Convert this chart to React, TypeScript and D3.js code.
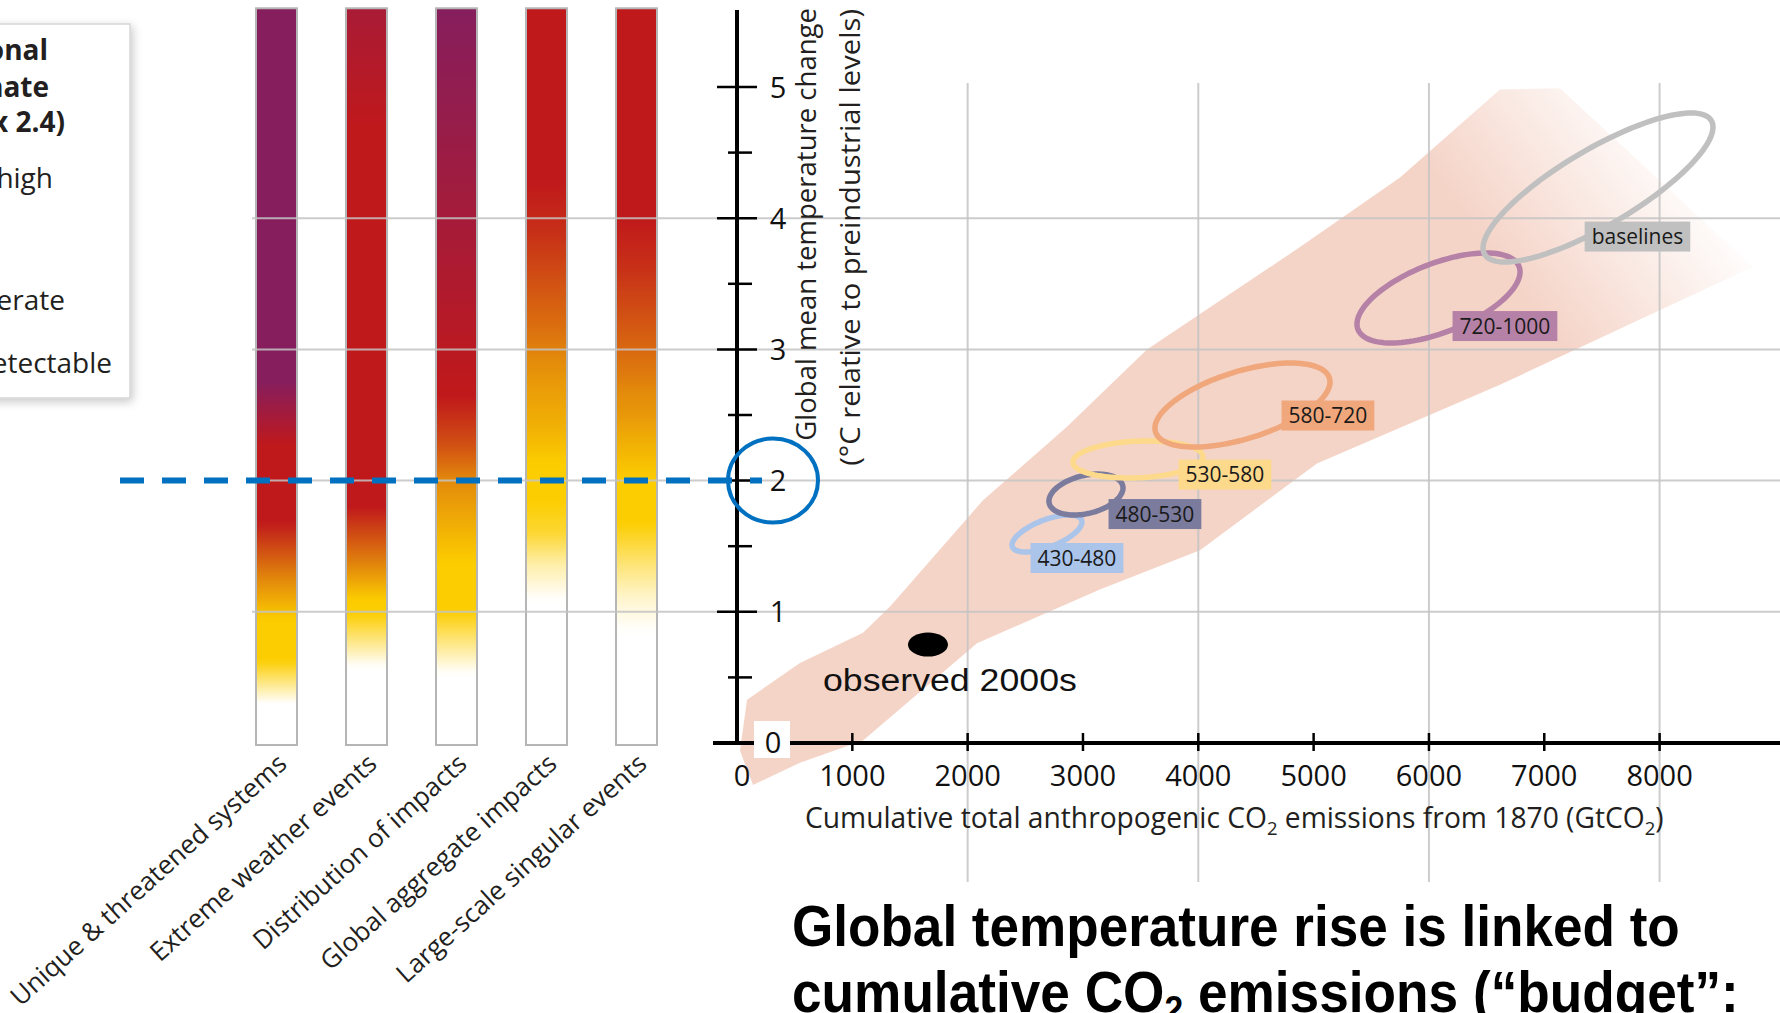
import React, { useLayoutEffect, useRef, useState } from 'react';
import * as d3 from 'd3';

const W = 1780;
const H = 1013;

// ---- Reasons for concern (left panel) ----
const categories = [
  'Unique & threatened systems',
  'Extreme weather events',
  'Distribution of impacts',
  'Global aggregate impacts',
  'Large-scale singular events',
];

// Risk level by warming: [°C, level]; 0 undetectable, 1 moderate, 2 high, 3 very high
const riskUnique = [[0.3, 0], [0.63, 1], [0.94, 1], [1.24, 1.5], [1.68, 2], [2.26, 2], [2.75, 3], [5.6, 3]];
const riskExtreme = [[0.58, 0], [0.99, 1], [1.09, 1], [1.34, 1.5], [1.8, 2], [4.65, 2], [5.6, 2.4]];
const riskDistribution = [[0.53, 0], [1.01, 1], [1.37, 1], [1.75, 1.3], [2.0, 1.5], [2.26, 1.75], [2.64, 2], [3.12, 2.15], [4.09, 2.5], [5.6, 3]];
const riskAggregate = [[1.09, 0], [1.37, 0.35], [1.6, 0.8], [1.85, 1], [2.13, 1], [2.39, 1.2], [2.77, 1.4], [2.92, 1.5], [3.12, 1.6], [3.38, 1.7], [3.89, 1.9], [4.27, 2], [5.6, 2]];
const riskSingular = [[0.84, 0], [1.11, 0.2], [1.37, 0.55], [1.68, 1], [2.0, 1], [2.26, 1.2], [2.51, 1.4], [2.77, 1.55], [3.12, 1.7], [3.63, 1.9], [4.0, 2], [5.6, 2]];
const riskStops = [riskUnique, riskExtreme, riskDistribution, riskAggregate, riskSingular];

const riskLevels = [0, 1, 1.5, 2, 3];
const riskColors = ['#ffffff', '#fccd00', '#e38a0b', '#c0191b', '#861e5d'];

const legendTitle = ['Level of additional', 'risk due to climate', 'change (see Box 2.4)'];
const legendItems = ['Very high', 'High', 'Moderate', 'Undetectable'];

// ---- Axes ----
const yTicks = [1, 2, 3, 4, 5];
const yMinorTicks = [0.5, 1.5, 2.5, 3.5, 4.5];
const xTicks = [0, 1000, 2000, 3000, 4000, 5000, 6000, 7000, 8000];
const xGrid = [2000, 4000, 6000, 8000];
const yGrid = [1, 2, 3, 4];
const tempTop = 5.6;
const threshold = 2;

// ---- Model plume (GtCO2, °C) ----
const plumeUpper = [
  [87, 0.33], [546, 0.61], [1093, 0.84], [1327, 1.04], [2133, 1.85], [2861, 2.41],
  [3555, 3.0], [4882, 3.78], [5749, 4.31], [6616, 4.98], [7136, 4.99],
];
const plumeLower = [
  [8810, 3.63], [6616, 2.73], [5029, 2.13], [4015, 1.47], [3147, 1.17],
  [2081, 0.76], [1093, 0.02], [546, -0.15], [139, -0.32], [26, -0.06],
];

// ---- Scenario categories (ppm CO2-eq in 2100) ----
const scenarioNames = ['430-480', '480-530', '530-580', '580-720', '720-1000', 'baselines'];
const scenarioCO2 = [2688, 3026, 3477, 4383, 6083, 7466];
const scenarioTemp = [1.597, 1.894, 2.161, 2.576, 3.392, 4.234];
const scenarioCO2Half = [303, 321, 564, 759, 707, 997];
const scenarioTempHalf = [0.141, 0.156, 0.141, 0.32, 0.343, 0.568];
const scenarioCorr = [0.62, 0.32, 0.14, 0.55, 0.58, 0.81];
const scenarioLabelCO2 = [2948, 3624, 4231, 5124, 6659, 7808];
const scenarioLabelTemp = [1.41, 1.745, 2.046, 2.496, 3.178, 3.86];
const scenarioColors = ['#aac4ea', '#7b7b9d', '#fdd98b', '#efa77b', '#b681a6', '#c0c0c0'];

const observedCO2 = 1656;
const observedTemp = 0.75;

const SANS = '"Open Sans", "Noto Sans", sans-serif';
const ARIAL = '"Liberation Sans", Arial, sans-serif';

// Text stretched/compressed horizontally to a given width
function FitText({ x, y, width, rotate = 0, anchor = 'start', style, children }: any) {
  const ref = useRef<SVGTextElement>(null);
  const [k, setK] = useState(1);
  useLayoutEffect(() => {
    if (ref.current) {
      const w = ref.current.getComputedTextLength();
      if (w > 0) setK(width / w);
    }
  }, [width]);
  return (
    <g transform={`translate(${x},${y}) rotate(${rotate}) scale(${k},1)`}>
      <text ref={ref} textAnchor={anchor} style={style}>{children}</text>
    </g>
  );
}

function BoxLabel({ cx, cy, text, fill }: any) {
  const ref = useRef<SVGTextElement>(null);
  const [w, setW] = useState(80);
  useLayoutEffect(() => {
    if (ref.current) setW(ref.current.getComputedTextLength());
  }, [text]);
  return (
    <g>
      <rect x={cx - w / 2 - 7} y={cy - 15} width={w + 14} height={30} fill={fill} />
      <text ref={ref} x={cx} y={cy + 7.5} textAnchor="middle"
        style={{ fontFamily: SANS, fontSize: 21, fill: '#1a1a1a' }}>{text}</text>
    </g>
  );
}

export default function App() {
  const x = d3.scaleLinear().domain([0, 8000]).range([737, 1659.6]);
  const y = d3.scaleLinear().domain([0, 5]).range([743, 87]);
  const barX = d3.scalePoint<string>().domain(categories).range([276.5, 636.5]);
  const barW = 41;

  const riskColor = d3.scaleLinear<string>().domain(riskLevels).range(riskColors).clamp(true);
  const samples = d3.range(0, tempTop + 0.001, 0.05);

  const plumePath = d3.line().curve(d3.curveLinearClosed)(
    [...plumeUpper, ...plumeLower].map(([c, t]) => [x(c), y(t)] as [number, number])
  );

  const ellipsePath = (i: number) => {
    const delta = Math.acos(scenarioCorr[i]);
    const pts = d3.range(0, 120).map((k) => {
      const p = (k / 120) * 2 * Math.PI;
      return [
        x(scenarioCO2[i] + scenarioCO2Half[i] * Math.cos(p)),
        y(scenarioTemp[i] + scenarioTempHalf[i] * Math.cos(p - delta)),
      ] as [number, number];
    });
    return d3.line().curve(d3.curveLinearClosed)(pts);
  };

  const gridStyle = { stroke: '#c4c4c4', strokeWidth: 2, opacity: 0.85 };

  return (
    <svg width={W} height={H} style={{ position: 'absolute', left: 0, top: 0, background: '#fff' }}>
      <defs>
        {riskStops.map((stops, i) => {
          const lvl = d3.scaleLinear().domain(stops.map((s) => s[0])).range(stops.map((s) => s[1])).clamp(true);
          return (
            <linearGradient key={i} id={`risk${i}`} gradientUnits="userSpaceOnUse"
              x1={0} x2={0} y1={y(0)} y2={y(tempTop)}>
              {samples.map((t) => (
                <stop key={t} offset={t / tempTop} stopColor={riskColor(lvl(t))} />
              ))}
            </linearGradient>
          );
        })}
        <linearGradient id="plumeFade" gradientUnits="userSpaceOnUse" x1={1500} y1={260} x2={1690} y2={120}>
          <stop offset={0} stopColor="#f5d4c8" stopOpacity={1} />
          <stop offset={0.85} stopColor="#f5d4c8" stopOpacity={0.05} />
          <stop offset={1} stopColor="#f5d4c8" stopOpacity={0} />
        </linearGradient>
        <filter id="shadow" x="-30%" y="-10%" width="160%" height="130%">
          <feDropShadow dx={2} dy={3} stdDeviation={5} floodColor="#000" floodOpacity={0.22} />
        </filter>
      </defs>

      {/* legend */}
      <rect x={-20} y={24} width={150} height={374} fill="#fff" stroke="#d6d6d6" strokeWidth={1.5} filter="url(#shadow)" />
      {legendTitle.map((s, i) => (
        <text key={s} x={[48, 49, 65][i]} y={[60, 97, 132][i]} textAnchor="end"
          style={{ fontFamily: SANS, fontSize: 28, fontWeight: 700, fill: '#231f20' }}>{s}</text>
      ))}
      {legendItems.map((s, i) => (
        <text key={s} x={[53, -5, 65, 112][i]} y={[188, 249, 310, 373][i]} textAnchor="end"
          style={{ fontFamily: SANS, fontSize: 28, fill: '#231f20' }}>{s}</text>
      ))}

      {/* plume */}
      <path d={plumePath || ''} fill="url(#plumeFade)" />

      {/* risk bars */}
      {categories.map((c, i) => (
        <rect key={c} x={(barX(c) as number) - barW / 2} y={y(tempTop)} width={barW} height={y(0) - y(tempTop) + 2}
          fill={`url(#risk${i})`} stroke="#b5b5b5" strokeWidth={2} />
      ))}
      {categories.map((c) => (
        <text key={c} transform={`translate(${(barX(c) as number) + 12},${766}) rotate(-42)`} textAnchor="end"
          style={{ fontFamily: SANS, fontSize: 26, fill: '#231f20' }}>{c}</text>
      ))}

      {/* grid */}
      {yGrid.map((t) => (
        <line key={t} x1={252} x2={W} y1={y(t)} y2={y(t)} style={gridStyle} />
      ))}
      {xGrid.map((v) => (
        <line key={v} x1={x(v)} x2={x(v)} y1={y(5.03)} y2={y(-1.06)} style={gridStyle} />
      ))}

      {/* observed */}
      <ellipse cx={x(observedCO2)} cy={y(observedTemp)} rx={20} ry={12} fill="#000" />
      <FitText x={x(observedCO2) - 105} y={y(observedTemp) + 46} width={254}
        style={{ fontFamily: ARIAL, fontSize: 31, fill: '#111' }}>observed 2000s</FitText>

      {/* scenario ellipses */}
      {scenarioNames.map((n, i) => (
        <path key={n} d={ellipsePath(i) || ''} fill="none" stroke={scenarioColors[i]} strokeWidth={5.5} />
      ))}
      {scenarioNames.map((n, i) => (
        <BoxLabel key={n} cx={x(scenarioLabelCO2[i])} cy={y(scenarioLabelTemp[i])} text={n} fill={scenarioColors[i]} />
      ))}

      {/* axes */}
      <line x1={713} x2={W} y1={y(0)} y2={y(0)} stroke="#000" strokeWidth={4} />
      <line x1={x(0)} x2={x(0)} y1={10} y2={y(0) + 2} stroke="#000" strokeWidth={4} />
      {xTicks.filter((v) => v > 0).map((v) => (
        <line key={v} x1={x(v)} x2={x(v)} y1={y(0) - 10} y2={y(0) + 8} stroke="#000" strokeWidth={2.5} />
      ))}
      {xTicks.map((v) => (
        <text key={v} x={x(v) + (v === 0 ? 5 : 0)} y={786} textAnchor="middle"
          style={{ fontFamily: SANS, fontSize: 29, fill: '#111' }}>{v}</text>
      ))}
      {yTicks.map((t) => (
        <line key={t} x1={717} x2={757} y1={y(t)} y2={y(t)} stroke="#000" strokeWidth={2.5} />
      ))}
      {yMinorTicks.map((t) => (
        <line key={t} x1={728} x2={752} y1={y(t)} y2={y(t)} stroke="#000" strokeWidth={2.5} />
      ))}
      <rect x={754} y={721} width={36} height={37} fill="#fff" />
      <text x={773} y={y(0) + 10} textAnchor="middle" style={{ fontFamily: SANS, fontSize: 29, fill: '#111' }}>0</text>
      {yTicks.map((t) => (
        <text key={t} x={778} y={y(t) + 10.5} textAnchor="middle"
          style={{ fontFamily: SANS, fontSize: 29, fill: '#111' }}>{t}</text>
      ))}

      <FitText x={816} y={8} width={433} rotate={-90} anchor="end"
        style={{ fontFamily: SANS, fontSize: 27.5, fill: '#231f20' }}>Global mean temperature change</FitText>
      <FitText x={860} y={9} width={457} rotate={-90} anchor="end"
        style={{ fontFamily: SANS, fontSize: 27.5, fill: '#231f20' }}>(°C relative to preindustrial levels)</FitText>

      <FitText x={805} y={828} width={859} style={{ fontFamily: SANS, fontSize: 29, fill: '#231f20' }}>
        Cumulative total anthropogenic CO<tspan dy={7} style={{ fontSize: 19 }}>2</tspan>
        <tspan dy={-7}> emissions from 1870 (GtCO</tspan><tspan dy={7} style={{ fontSize: 19 }}>2</tspan>
        <tspan dy={-7}>)</tspan>
      </FitText>

      {/* 2 °C threshold */}
      <line x1={120} x2={762} y1={y(threshold)} y2={y(threshold)} stroke="#0070c0" strokeWidth={6} strokeDasharray="24 18" />
      <ellipse cx={773} cy={y(threshold)} rx={45} ry={42} fill="none" stroke="#0070c0" strokeWidth={4} />

      {/* title */}
      <FitText x={792} y={946} width={888} style={{ fontFamily: ARIAL, fontSize: 57, fontWeight: 700, fill: '#000' }}>
        Global temperature rise is linked to
      </FitText>
      <FitText x={792} y={1012} width={947} style={{ fontFamily: ARIAL, fontSize: 57, fontWeight: 700, fill: '#000' }}>
        cumulative CO<tspan dy={10} style={{ fontSize: 36 }}>2</tspan><tspan dy={-10}> emissions (“budget”:</tspan>
      </FitText>
    </svg>
  );
}
